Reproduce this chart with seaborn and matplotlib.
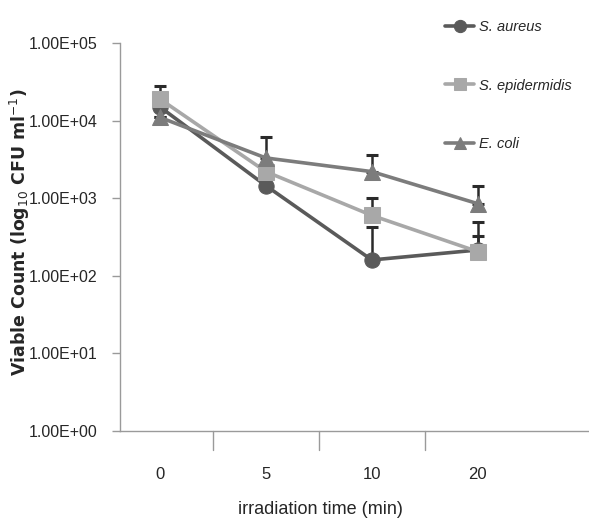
import numpy as np
import pandas as pd
import matplotlib
matplotlib.use("Agg")
import matplotlib.pyplot as plt
import seaborn as sns

times = ["0", "5", "10", "20"]
series = ["S. aureus", "S. epidermidis", "E. coli"]
aureus = [1.5e4, 1.45e3, 160, 215]
aureus_err = [0, 0, 270, 110]
epidermidis = [1.9e4, 2.2e3, 600, 205]
epidermidis_err = [9000, 0, 420, 285]
ecoli = [1.1e4, 3.3e3, 2.2e3, 850]
ecoli_err = [0, 2900, 1400, 600]
yticks = [1e0, 1e1, 1e2, 1e3, 1e4, 1e5]
ytick_labels = ["1.00E+00", "1.00E+01", "1.00E+02", "1.00E+03", "1.00E+04", "1.00E+05"]

colors = {"S. aureus": "#5a5a5a", "S. epidermidis": "#a8a8a8", "E. coli": "#7c7c7c"}
markers = {"S. aureus": "o", "S. epidermidis": "s", "E. coli": "^"}

sns.set_theme(style="white")
plt.rcParams["font.family"] = ["Liberation Sans", "DejaVu Sans"]

vals = {"S. aureus": aureus, "S. epidermidis": epidermidis, "E. coli": ecoli}
errs = {"S. aureus": aureus_err, "S. epidermidis": epidermidis_err, "E. coli": ecoli_err}
rows = []
for s in series:
    for i, t in enumerate(times):
        rows.append({"pos": i, "time": t, "count": vals[s][i], "series": s})
df = pd.DataFrame(rows)

fig = plt.figure(figsize=(5.89, 5.24), dpi=100)
ax = fig.add_axes([120/589, 1-431/524, 469/589, (431-43)/524])

# error bars (upper only)
for s in series:
    x = np.arange(len(times))
    y = np.array(vals[s])
    e = np.array(errs[s])
    ax.errorbar(x, y, yerr=[np.zeros_like(e), e], fmt="none", ecolor="#2a2a2a",
                elinewidth=1.8, capsize=4, capthick=2.2, zorder=2)

for s in series:
    sub = df[df["series"] == s]
    sns.lineplot(data=sub, x="pos", y="count", ax=ax, color=colors[s],
                 marker=markers[s], markersize=11, markeredgecolor=colors[s],
                 linewidth=2.6, label=s, zorder=3, errorbar=None)

ax.set_yscale("log")
ax.set_ylim(1e0, 1e5)
ax.set_xlim(-0.377, 4.05)
ax.set_yticks(yticks)
ax.set_yticklabels(ytick_labels, fontsize=11.5)
ax.yaxis.set_minor_locator(matplotlib.ticker.NullLocator())
ax.set_xticks([0, 1, 2, 3])
ax.set_xticklabels(times, fontsize=12)
ax.tick_params(axis="x", length=0, pad=26)
ax.tick_params(axis="y", which="major", length=6, width=1, color="#9a9a9a", left=True, direction="out", pad=10)
for b in [0.5, 1.5, 2.5]:
    ax.plot([b, b], [0, -0.05], transform=ax.get_xaxis_transform(), color="#9a9a9a", lw=1, clip_on=False)

for sp in ["top", "right"]:
    ax.spines[sp].set_visible(False)
for sp in ["left", "bottom"]:
    ax.spines[sp].set_color("#9a9a9a")
    ax.spines[sp].set_linewidth(1)

ax.set_xlabel("irradiation time (min)", fontsize=13)
ax.set_ylabel("Viable Count (log$_{10}$ CFU ml$^{-1}$)", fontsize=12.5, fontweight="bold",
              family="DejaVu Sans")
ax.xaxis.set_label_coords((320-120)/469, -(509-431)/388)
ax.xaxis.label.set_va("center")
ax.yaxis.set_label_coords(-(120-20)/469, (431-232)/388)
ax.yaxis.label.set_va("center")

leg = ax.legend(loc="upper left", bbox_to_anchor=(432/589, 1 - 7/524), bbox_transform=fig.transFigure,
                frameon=False, labelspacing=3.05, handlelength=2.0, handletextpad=0.3,
                markerscale=0.8, prop={"style": "italic", "size": 10.5})

fig.savefig("out.png", dpi=100)
